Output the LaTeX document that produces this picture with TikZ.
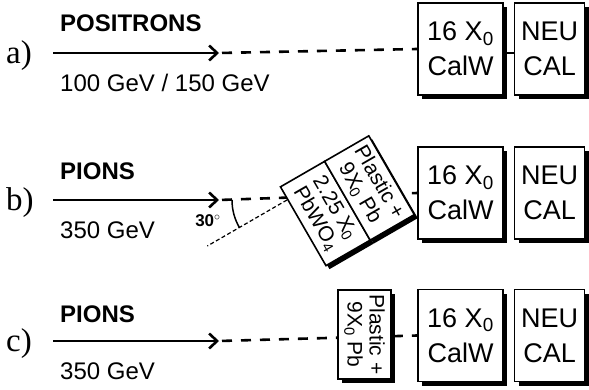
\documentclass[tikz,border=0pt]{standalone}
\usepackage{fontspec}
\setmainfont{Liberation Sans}
\newfontfamily\rowfont{Liberation Serif}
\usetikzlibrary{arrows.meta,positioning,shadows}
\tikzset{
  calbox/.style={draw=black, line width=1.6pt, fill=white, align=center,
             minimum height=92pt, inner sep=0pt,
             font=\fontsize{27}{35}\selectfont,
             drop shadow={fill=black, opacity=1, shadow xshift=4pt, shadow yshift=-4pt}},
  absorber/.style={draw=black, line width=1.6pt, fill=white, align=center,
             minimum width=91pt, minimum height=51pt, inner sep=0pt, outer sep=0pt,
             font=\fontsize{21}{22}\selectfont,
             drop shadow={fill=black, opacity=1, shadow xshift=3.5pt, shadow yshift=-3.5pt}},
  beam/.style={line width=2.6pt, -{Straight Barb[length=8pt, width=15pt]}},
  beamdash/.style={line width=2.6pt, dash pattern=on 10pt off 9pt, shorten <=3pt},
  tiltline/.style={line width=1.2pt, dash pattern=on 4pt off 2.5pt},
  anglearc/.style={line width=1.5pt},
  rowlabel/.style={font=\rowfont\fontsize{33}{33}\selectfont, anchor=west, inner sep=0pt},
  particle/.style={font=\bfseries\fontsize{24}{24}\selectfont, anchor=base west, inner sep=0pt},
  energy/.style={font=\fontsize{24}{24}\selectfont, anchor=base west, inner sep=0pt},
}

\begin{document}
\begin{tikzpicture}[x=1pt, y=1pt]
\useasboundingbox (0,0) rectangle (589,389);
% ===================== row (a): positrons
\node[rowlabel] (labA) at (6,333) {a)};
\coordinate (srcA) at (53,336);
\coordinate (tipA) at (219,336);
\node[particle] (partA) at (60,357) {POSITRONS};
\node[energy] (enA) at (60,297) {100 GeV / 150 GeV};
\node[calbox, minimum width=85pt] (calwA) at (460.5,340) {16 X\textsubscript{0}\\CalW};
\node[calbox, minimum width=70pt, right=10pt of calwA] (neuA) {NEU\\CAL};
\draw[beam] (srcA) -- (tipA);
\draw[beamdash] (tipA) -- (calwA.west);
\draw[line width=2.6pt] (calwA.east |- tipA) -- (neuA.west |- tipA);
% ===================== row (b): pions, tilted absorber
\node[rowlabel] (labB) at (6,186) {b)};
\coordinate (srcB) at (53,189);
\coordinate (tipB) at (219,189);
\coordinate (vtx) at (287,189);
\coordinate (tiltEnd) at ([shift={(210:92)}]vtx);
\node[particle] (partB) at (60,210) {PIONS};
\node[energy] (enB) at (60,151) {350 GeV};
\draw[beam] (srcB) -- (tipB);
\node[calbox, minimum width=85pt] (calwB) at (460.5,196) {16 X\textsubscript{0}\\CalW};
\node[calbox, minimum width=70pt, right=10pt of calwB] (neuB) {NEU\\CAL};
\draw[beamdash] (tipB) -- (calwB.west);
\draw[tiltline] (vtx) -- (tiltEnd);
\draw[anglearc] ([shift={(180:55)}]vtx) arc[start angle=180, end angle=210, radius=55];
\node[font=\bfseries\fontsize{17}{17}\selectfont, inner sep=0pt] (ang) at (208,168) {30{\normalfont$^\circ$}};
\node[absorber, rotate=-60] (pbwo) at (325.3,175.5) {2.25 X\textsubscript{0}\\PbWO\textsubscript{4}};
\node[absorber, rotate=-60, anchor=south] (plastB) at (pbwo.north) {Plastic +\\9X\textsubscript{0} Pb};
% ===================== row (c): pions, straight absorber
\node[rowlabel] (labC) at (6,45) {c)};
\coordinate (srcC) at (53,48);
\coordinate (tipC) at (219,48);
\node[particle] (partC) at (60,67) {PIONS};
\node[energy] (enC) at (60,10) {350 GeV};
\draw[beam] (srcC) -- (tipC);
\node[calbox, minimum width=85pt] (calwC) at (460.5,53.5) {16 X\textsubscript{0}\\CalW};
\node[calbox, minimum width=70pt, right=10pt of calwC] (neuC) {NEU\\CAL};
\draw[beamdash] (tipC) -- (calwC.west);
\node[absorber, rotate=-90, minimum width=89pt, minimum height=53pt] (plastC) at (364.5,54.5) {Plastic +\\9X\textsubscript{0} Pb};
\end{tikzpicture}
\end{document}
